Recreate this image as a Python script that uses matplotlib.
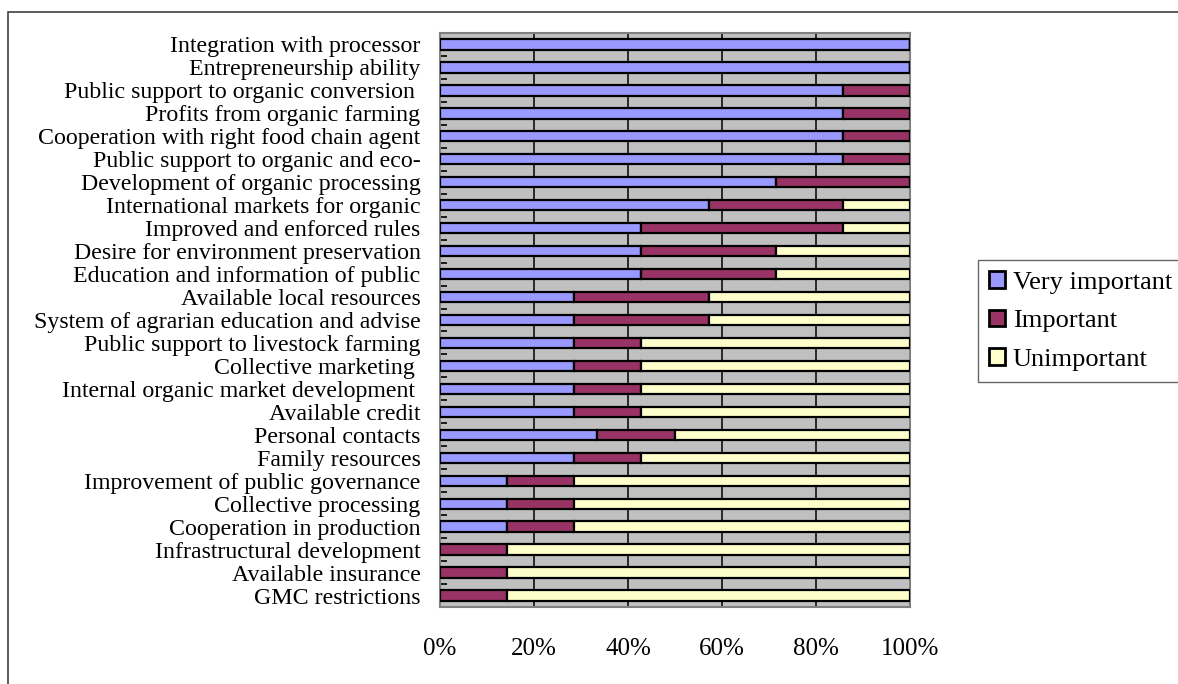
import numpy as np
import matplotlib.pyplot as plt
from matplotlib.patches import Rectangle

plt.rcParams['font.family'] = ['Liberation Serif', 'DejaVu Serif']

# categories top to bottom
factors = [
    "Integration with processor",
    "Entrepreneurship ability",
    "Public support to organic conversion ",
    "Profits from organic farming",
    "Cooperation with right food chain agent",
    "Public support to organic and eco-",
    "Development of organic processing",
    "International markets for organic",
    "Improved and enforced rules",
    "Desire for environment preservation",
    "Education and information of public",
    "Available local resources",
    "System of agrarian education and advise",
    "Public support to livestock farming",
    "Collective marketing ",
    "Internal organic market development ",
    "Available credit",
    "Personal contacts",
    "Family resources",
    "Improvement of public governance",
    "Collective processing",
    "Cooperation in production",
    "Infrastructural development",
    "Available insurance",
    "GMC restrictions",
]

# answer counts per factor
very_important = [7, 7, 6, 6, 6, 6, 5, 4, 3, 3, 3, 2, 2, 2, 2, 2, 2, 2, 2, 1, 1, 1, 0, 0, 0]
important      = [0, 0, 1, 1, 1, 1, 2, 2, 3, 2, 2, 2, 2, 1, 1, 1, 1, 1, 1, 1, 1, 1, 1, 1, 1]
unimportant    = [0, 0, 0, 0, 0, 0, 0, 1, 1, 2, 2, 3, 3, 4, 4, 4, 4, 3, 4, 5, 5, 5, 6, 6, 6]

series_names = ["Very important", "Important", "Unimportant"]
colors = ["#9999FF", "#993366", "#FFFFCC"]

counts = np.array([very_important, important, unimportant], dtype=float)
shares = counts / counts.sum(axis=0) * 100

fig = plt.figure(figsize=(11.78, 6.84), dpi=100)
ax = fig.add_axes([440 / 1178, 1 - 607 / 684, 470 / 1178, 574 / 684])
ax.set_facecolor("#C0C0C0")

y = np.arange(len(factors))
left = np.zeros(len(factors))
for vals, name, col in zip(shares, series_names, colors):
    ax.barh(y, vals, left=left, height=0.45, color=col, edgecolor="black",
            linewidth=1.6, label=name, zorder=3)
    left += vals

ax.set_xlim(0, 100)
ax.set_ylim(len(factors) - 0.5, -0.5)
ax.set_xticks([0, 20, 40, 60, 80, 100])
ax.set_xticklabels(["0%", "20%", "40%", "60%", "80%", "100%"], fontsize=18)
ax.tick_params(axis="x", length=0, pad=22)
ax.set_yticks(y)
ax.set_yticklabels(factors, fontsize=17.2)
ax.tick_params(axis="y", length=0, pad=14)
ax.set_yticks(np.arange(len(factors) + 1) - 0.5, minor=True)
ax.tick_params(axis="y", which="minor", direction="in", length=5, width=1.2,
               color="black")
ax.grid(axis="x", color="black", linewidth=1.1, zorder=1)
for s in ax.spines.values():
    s.set_color("#808080")
    s.set_linewidth(1.5)

leg = fig.legend(loc="upper left", bbox_to_anchor=(978 / 1178, 1 - 260 / 684),
                 fontsize=19, frameon=True, fancybox=False, handlelength=0.6,
                 handleheight=0.6, handletextpad=0.3, borderpad=0.42,
                 labelspacing=0.6, borderaxespad=0)
leg.get_frame().set_edgecolor("#404040")
leg.get_frame().set_linewidth(1.0)
for h in leg.legend_handles:
    h.set_linewidth(2)

# outer chart frame
fig.patches.append(Rectangle((8 / 1178, -0.1), 1.2, 1 - 12 / 684 + 0.1,
                             transform=fig.transFigure, fill=False,
                             edgecolor="#404040", linewidth=1.2))

fig.savefig("out.png", dpi=100)
